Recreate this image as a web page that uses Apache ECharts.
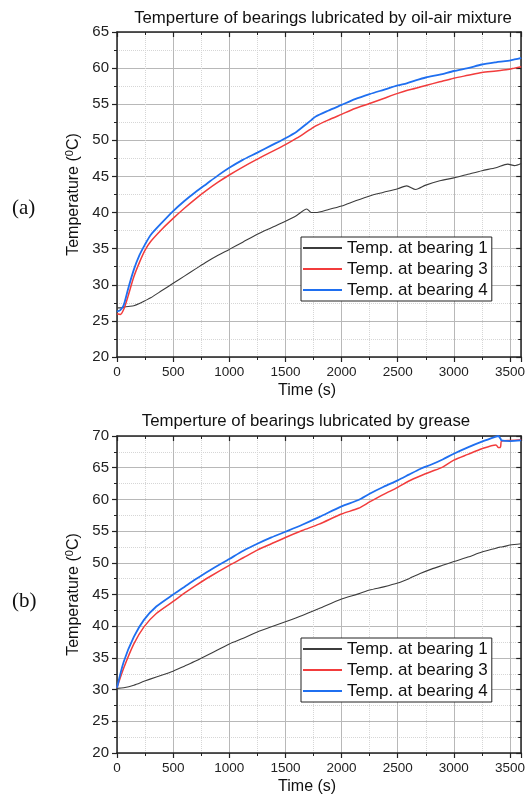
<!DOCTYPE html>
<html>
<head>
<meta charset="utf-8">
<title>bearing temperature</title>
<script src="https://cdn.jsdelivr.net/npm/echarts@6/dist/echarts.min.js"></script>
<style>
html, body { margin: 0; padding: 0; background: #fff; }
#chartWrap { width: 528px; height: 796px; }
</style>
</head>
<body>
<div id="chartWrap"></div>
<script>
// (a) oil-air mixture, time in s
var timeA = [0, 30, 60, 100, 150, 200, 250, 300, 400, 500, 600, 700, 800, 900, 1000, 1120, 1250, 1375, 1500, 1600,
  1690, 1730, 1770, 1880, 2000, 2120, 2250, 2375, 2500, 2580, 2660, 2750, 2875, 3000, 3125, 3250, 3375, 3480, 3540, 3600];
var oilBearing1 = [26.8, 26.8, 26.9, 27.0, 27.1, 27.4, 27.8, 28.2, 29.2, 30.2, 31.2, 32.2, 33.2, 34.1, 34.9, 35.9, 37.0, 37.9, 38.8, 39.6,
  40.5, 40.0, 40.0, 40.4, 40.9, 41.6, 42.3, 42.8, 43.3, 43.7, 43.2, 43.8, 44.4, 44.8, 45.3, 45.8, 46.2, 46.7, 46.5, 46.8];
var oilBearing3 = [26.0, 25.9, 26.6, 28.5, 31.1, 33.1, 34.8, 36.0, 37.7, 39.2, 40.6, 41.9, 43.1, 44.2, 45.2, 46.3, 47.4, 48.4, 49.4, 50.3,
  51.2, 51.6, 52.0, 52.8, 53.6, 54.4, 55.1, 55.8, 56.5, 56.9, 57.2, 57.6, 58.1, 58.6, 59.0, 59.4, 59.6, 59.8, 60.0, 60.2];
var oilBearing4 = [26.3, 26.5, 27.2, 29.5, 32.1, 34.1, 35.6, 36.9, 38.6, 40.2, 41.6, 42.85, 44.0, 45.15, 46.2, 47.3, 48.3, 49.3, 50.3, 51.2,
  52.3, 52.8, 53.3, 54.1, 54.9, 55.7, 56.4, 57.0, 57.6, 57.9, 58.3, 58.7, 59.1, 59.6, 60.0, 60.5, 60.8, 61.0, 61.2, 61.4];

// (b) grease
var timeB = [0, 60, 150, 240, 350, 500, 600, 700, 825, 1000, 1125, 1250, 1375, 1500, 1650, 1800, 2000, 2150, 2250, 2375,
  2500, 2600, 2700, 2800, 2900, 3000, 3125, 3250, 3375, 3395, 3415, 3425, 3500, 3600];
var greaseBearing1 = [30.2, 30.3, 30.7, 31.3, 32.0, 32.9, 33.7, 34.5, 35.6, 37.2, 38.1, 39.1, 39.9, 40.7, 41.7, 42.8, 44.3, 45.1, 45.7, 46.2,
  46.8, 47.5, 48.3, 49.0, 49.6, 50.2, 50.9, 51.7, 52.3, 52.4, 52.5, 52.5, 52.8, 53.0];
var greaseBearing3 = [30.3, 33.4, 37.2, 39.9, 42.0, 43.9, 45.2, 46.4, 47.8, 49.6, 50.8, 52.0, 53.0, 54.0, 55.1, 56.1, 57.7, 58.6, 59.6, 60.8,
  61.9, 62.9, 63.7, 64.4, 65.1, 66.2, 67.1, 68.0, 68.6, 68.2, 68.2, 69.2, 69.3, 69.4];
var greaseBearing4 = [30.3, 34.4, 38.3, 41.0, 43.1, 45.0, 46.2, 47.4, 48.8, 50.6, 51.9, 53.0, 54.0, 54.9, 56.0, 57.2, 58.9, 59.9, 60.9, 62.0,
  63.0, 63.9, 64.8, 65.5, 66.3, 67.2, 68.2, 69.1, 69.9, 70.0, 69.6, 69.3, 69.2, 69.3];

var seriesNames = ['Temp. at bearing 1', 'Temp. at bearing 3', 'Temp. at bearing 4'];
var lineColors = ['#3c3c3c', '#f23c3c', '#1f6ff0'];
var lineWidths = [1.1, 1.5, 1.8];

var FONT = 'Liberation Sans, Arial, sans-serif';

function pairs(t, v) {
  var out = [];
  for (var i = 0; i < t.length; i++) {
    out.push([t[i], v[i]]);
  }
  return out;
}

// x axis, top=true is the mirror frame on top
function makeX(grid, top) {
  return {
    gridIndex: grid, type: 'value', min: 0, max: 3600, interval: 500,
    position: top ? 'top' : 'bottom',
    axisLine: { onZero: false, lineStyle: { color: '#222', width: 1.5 } },
    axisTick: { inside: !!top, length: 5, lineStyle: { color: '#222', width: 1.2 } },
    minorTick: { show: true, splitNumber: 2, length: 3, lineStyle: { color: '#222', width: 1 } },
    axisLabel: { show: !top, fontSize: 13.5, color: '#222', margin: 8, showMaxLabel: false, fontFamily: FONT,
      formatter: function(v) { return String(v); } },
    splitLine: { show: !top, lineStyle: { color: '#b8b8b8', width: 1 } },
    minorSplitLine: { show: !top, lineStyle: { color: '#d6d6d6', width: 1, type: 'dotted' } },
    name: top ? '' : 'Time (s)', nameLocation: 'middle', nameGap: 26,
    nameTextStyle: { fontSize: 16, color: '#111', fontFamily: FONT, padding: [0, 24, 0, 0] }
  };
}

function makeY(grid, max, right) {
  return {
    gridIndex: grid, type: 'value', min: 20, max: max, interval: 5,
    position: right ? 'right' : 'left',
    axisLine: { show: true, onZero: false, lineStyle: { color: '#222', width: 1.5 } },
    axisTick: { show: true, inside: !!right, length: 5, lineStyle: { color: '#222', width: 1.2 } },
    minorTick: { show: true, splitNumber: 2, length: 3, lineStyle: { color: '#222', width: 1 } },
    axisLabel: { show: !right, fontSize: 15, color: '#222', margin: 8, fontFamily: FONT },
    splitLine: { show: !right, lineStyle: { color: '#b8b8b8', width: 1 } },
    minorSplitLine: { show: !right, lineStyle: { color: '#d6d6d6', width: 1, type: 'dotted' } },
    name: right ? '' : '{a|Temperature (}{s|0}{a|C)}', nameLocation: 'middle', nameGap: 28,
    nameTextStyle: {
      rich: {
        a: { fontSize: 16, color: '#111', fontFamily: FONT, lineHeight: 18 },
        s: { fontSize: 11, color: '#111', fontFamily: FONT, lineHeight: 18, verticalAlign: 'top' }
      }
    }
  };
}

function makeLegend(top) {
  return {
    data: seriesNames, orient: 'vertical', left: 301, top: top,
    icon: 'rect', itemWidth: 39, itemHeight: 2, itemGap: 3,
    backgroundColor: '#fff', borderColor: '#222', borderWidth: 1, borderRadius: 0,
    padding: [2, 4, 2, 2],
    textStyle: { fontSize: 17, color: '#111', fontFamily: FONT, lineHeight: 18 }
  };
}

var series = [];
var panelA = [oilBearing1, oilBearing3, oilBearing4];
var panelB = [greaseBearing1, greaseBearing3, greaseBearing4];
for (var i = 0; i < 3; i++) {
  series.push({
    name: seriesNames[i], type: 'line', xAxisIndex: 0, yAxisIndex: 0,
    data: pairs(timeA, panelA[i]), symbol: 'none', smooth: 0.25, animation: false,
    lineStyle: { color: lineColors[i], width: lineWidths[i] }, itemStyle: { color: lineColors[i] }
  });
  series.push({
    name: seriesNames[i], type: 'line', xAxisIndex: 2, yAxisIndex: 2,
    data: pairs(timeB, panelB[i]), symbol: 'none', smooth: 0.25, animation: false,
    lineStyle: { color: lineColors[i], width: lineWidths[i] }, itemStyle: { color: lineColors[i] }
  });
}

var myChart = echarts.init(document.getElementById('chartWrap'));
myChart.setOption({
  backgroundColor: '#fff',
  animation: false,
  title: [
    { text: 'Temperture of bearings lubricated by oil-air mixture', left: 318, top: 5, textAlign: 'center',
      textStyle: { fontSize: 16.8, fontWeight: 'normal', color: '#111', fontFamily: FONT } },
    { text: 'Temperture of bearings lubricated by grease', left: 301, top: 408, textAlign: 'center',
      textStyle: { fontSize: 16.8, fontWeight: 'normal', color: '#111', fontFamily: FONT } },
    { text: '(a)', left: 7, top: 193,
      textStyle: { fontSize: 21, fontWeight: 'normal', color: '#111', fontFamily: 'Liberation Serif, serif' } },
    { text: '(b)', left: 7, top: 586,
      textStyle: { fontSize: 21, fontWeight: 'normal', color: '#111', fontFamily: 'Liberation Serif, serif' } }
  ],
  legend: [makeLegend(237), makeLegend(638)],
  grid: [
    { left: 117, right: 5, top: 32, height: 325 },
    { left: 117, right: 5, top: 436, height: 317 }
  ],
  xAxis: [makeX(0, false), makeX(0, true), makeX(1, false), makeX(1, true)],
  yAxis: [makeY(0, 65, false), makeY(0, 65, true), makeY(1, 70, false), makeY(1, 70, true)],
  series: series
});
</script>
</body>
</html>
